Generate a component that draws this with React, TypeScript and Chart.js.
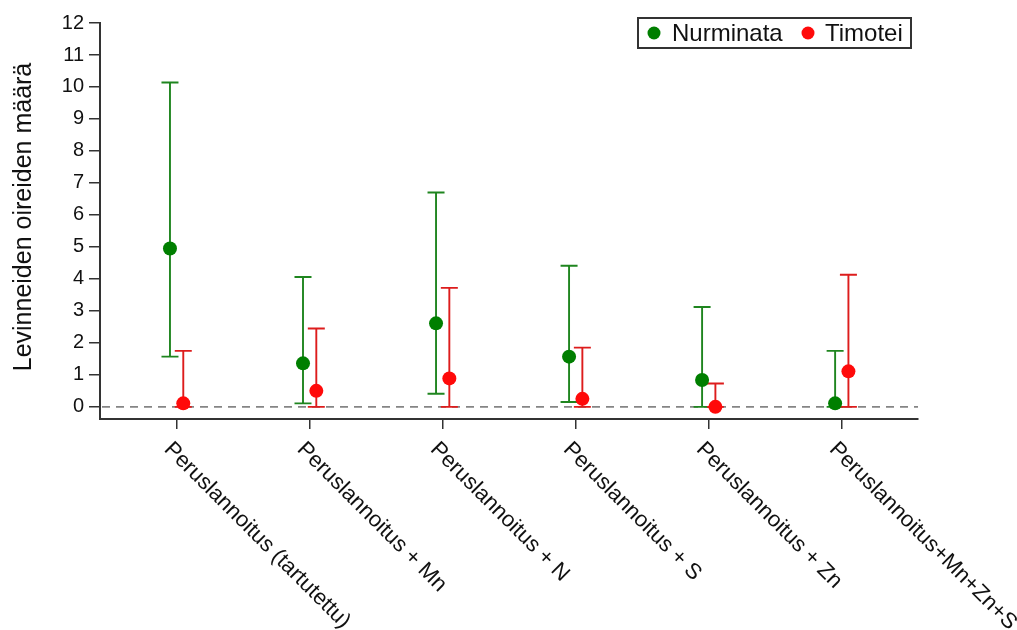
import React, { useEffect, useRef } from "react";
import { Chart, registerables } from "chart.js";

Chart.register(...registerables);

const categories = [
  "Peruslannoitus (tartutettu)",
  "Peruslannoitus + Mn",
  "Peruslannoitus + N",
  "Peruslannoitus + S",
  "Peruslannoitus + Zn",
  "Peruslannoitus+Mn+Zn+S",
];
const nurminataMean = [4.95, 1.36, 2.61, 1.57, 0.84, 0.11];
const nurminataLow = [1.57, 0.11, 0.41, 0.15, 0.0, 0.0];
const nurminataHigh = [10.14, 4.06, 6.7, 4.41, 3.12, 1.75];
const timoteiMean = [0.11, 0.5, 0.89, 0.25, 0.0, 1.11];
const timoteiLow = [0.0, 0.0, 0.0, 0.0, 0.0, 0.0];
const timoteiHigh = [1.75, 2.45, 3.72, 1.85, 0.73, 4.13];
const yTicks = [0, 1, 2, 3, 4, 5, 6, 7, 8, 9, 10, 11, 12];
const seriesNames = ["Nurminata", "Timotei"];
const yTitle = "Levinneiden oireiden määrä";

const GREEN = "#007f00";
const GREEN_LINE = "#1f851f";
const RED = "#ff0a0a";
const RED_LINE = "#dd1c1c";
const AXIS = "#333333";
const FONT = "'Liberation Sans', Arial, sans-serif";
const OFFSET = 0.05;

export default function App() {
  const ref = useRef<HTMLCanvasElement | null>(null);

  useEffect(() => {
    document.body.style.margin = "0";
    const canvas = ref.current;
    if (!canvas) return;

    const series = [
      { mean: nurminataMean, low: nurminataLow, high: nurminataHigh, off: -OFFSET, color: GREEN_LINE },
      { mean: timoteiMean, low: timoteiLow, high: timoteiHigh, off: OFFSET, color: RED_LINE },
    ];

    const underlay = {
      id: "underlay",
      beforeDatasetsDraw(chart: any) {
        const { ctx, chartArea, scales } = chart;
        const xs = scales.x;
        const ys = scales.y;
        ctx.save();
        const y0 = ys.getPixelForValue(0);
        ctx.strokeStyle = "#858585";
        ctx.lineWidth = 1.6;
        ctx.setLineDash([8, 6]);
        ctx.beginPath();
        ctx.moveTo(chartArea.left + 2, y0);
        ctx.lineTo(chartArea.right, y0);
        ctx.stroke();
        ctx.setLineDash([]);
        series.forEach((s) => {
          ctx.strokeStyle = s.color;
          ctx.lineWidth = 1.9;
          s.mean.forEach((_, i) => {
            const x = xs.getPixelForValue(i + s.off);
            const yl = ys.getPixelForValue(s.low[i]);
            const yh = ys.getPixelForValue(s.high[i]);
            ctx.beginPath();
            ctx.moveTo(x, yl);
            ctx.lineTo(x, yh);
            ctx.moveTo(x - 8.5, yh);
            ctx.lineTo(x + 8.5, yh);
            ctx.moveTo(x - 8.5, yl);
            ctx.lineTo(x + 8.5, yl);
            ctx.stroke();
          });
        });
        ctx.restore();
      },
    };

    const overlay = {
      id: "overlay",
      afterDraw(chart: any) {
        const { ctx, scales } = chart;
        const xs = scales.x;
        ctx.save();
        ctx.fillStyle = "#111111";
        ctx.font = `22px ${FONT}`;
        ctx.textAlign = "left";
        ctx.textBaseline = "middle";
        categories.forEach((c, i) => {
          const x = xs.getPixelForValue(i);
          ctx.save();
          ctx.translate(x - 9, 446);
          ctx.rotate(Math.PI / 4);
          ctx.fillText(c, 0, 0);
          ctx.restore();
        });
        // y title
        ctx.save();
        ctx.font = `25px ${FONT}`;
        ctx.textAlign = "center";
        ctx.textBaseline = "middle";
        ctx.translate(24, 217);
        ctx.rotate(-Math.PI / 2);
        ctx.fillText(yTitle, 0, 0);
        ctx.restore();
        // legend box
        const bx = 638, by = 18, bw = 273, bh = 30;
        ctx.fillStyle = "#ffffff";
        ctx.fillRect(bx, by, bw, bh);
        ctx.strokeStyle = AXIS;
        ctx.lineWidth = 2;
        ctx.strokeRect(bx, by, bw, bh);
        const cy = by + bh / 2;
        const items = [
          { name: seriesNames[0], color: GREEN, cx: 654, tx: 672 },
          { name: seriesNames[1], color: RED, cx: 808, tx: 825 },
        ];
        ctx.font = `24px ${FONT}`;
        ctx.textAlign = "left";
        ctx.textBaseline = "middle";
        items.forEach((it) => {
          ctx.fillStyle = it.color;
          ctx.beginPath();
          ctx.arc(it.cx, cy, 6.5, 0, Math.PI * 2);
          ctx.fill();
          ctx.fillStyle = "#111111";
          ctx.fillText(it.name, it.tx, cy + 1);
        });
        ctx.restore();
      },
    };

    const chart = new Chart(canvas, {
      type: "scatter",
      data: {
        datasets: [
          {
            label: seriesNames[0],
            data: nurminataMean.map((v, i) => ({ x: i - OFFSET, y: v })),
            backgroundColor: GREEN,
            borderWidth: 0,
            pointRadius: 7,
          },
          {
            label: seriesNames[1],
            data: timoteiMean.map((v, i) => ({ x: i + OFFSET, y: v })),
            backgroundColor: RED,
            borderWidth: 0,
            pointRadius: 7,
          },
        ],
      },
      options: {
        animation: false,
        responsive: false,
        events: [],
        layout: { padding: { top: 23, right: 99, left: 0, bottom: 0 } },
        plugins: {
          legend: { display: false },
          tooltip: { enabled: false },
        },
        scales: {
          x: {
            type: "linear",
            min: -0.576,
            max: 5.573,
            afterBuildTicks: (scale: any) => {
              scale.ticks = categories.map((_, i) => ({ value: i }));
            },
            afterFit: (scale: any) => {
              scale.height = 211;
            },
            ticks: { callback: () => "", font: { size: 1 } },
            border: { display: true, color: AXIS, width: 2 },
            grid: {
              drawOnChartArea: false,
              drawTicks: true,
              tickLength: 10,
              tickColor: AXIS,
              lineWidth: 1.5,
            },
          },
          y: {
            type: "linear",
            min: -0.38,
            max: 12,
            afterBuildTicks: (scale: any) => {
              scale.ticks = yTicks.map((v) => ({ value: v }));
            },
            afterFit: (scale: any) => {
              scale.width = 100;
            },
            ticks: {
              color: "#111111",
              font: { family: FONT, size: 20 },
              padding: 5,
              callback: (v: any) => String(v),
            },
            border: { display: true, color: AXIS, width: 2 },
            grid: {
              drawOnChartArea: false,
              drawTicks: true,
              tickLength: 11,
              tickColor: AXIS,
              lineWidth: 1.5,
            },
          },
        },
      },
      plugins: [underlay, overlay],
    } as any);

    return () => chart.destroy();
  }, []);

  return (
    <div style={{ position: "fixed", left: 0, top: 0, width: 1017, height: 630, background: "#fff" }}>
      <canvas ref={ref} width={1017} height={630} style={{ display: "block" }} />
    </div>
  );
}
